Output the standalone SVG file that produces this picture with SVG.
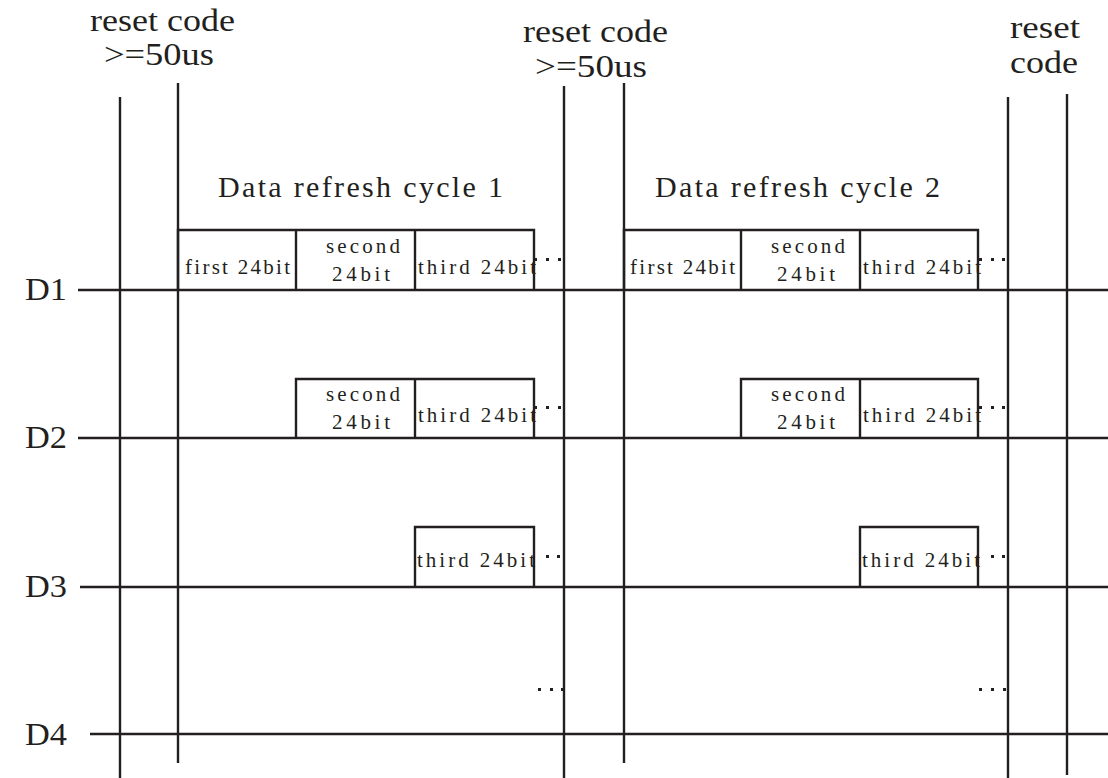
<svg xmlns="http://www.w3.org/2000/svg" width="1108" height="778" viewBox="0 0 1108 778">
<style>
.ln{stroke:#231f20;stroke-width:2.4;fill:none}
.t{font-family:"Liberation Serif",serif;fill:#231f20}
.big{font-size:31px}
.mid{font-size:30px}
.sm{font-size:21px}
.dot{fill:#231f20}
</style>
<rect width="1108" height="778" fill="#fff"/>
<g id="labels">
<text class="t big" x="90" y="31" textLength="145" lengthAdjust="spacingAndGlyphs">reset code</text>
<text class="t big" x="104" y="65" textLength="110" lengthAdjust="spacingAndGlyphs">&gt;=50us</text>
<text class="t big" x="523" y="42" textLength="145" lengthAdjust="spacingAndGlyphs">reset code</text>
<text class="t big" x="535" y="77" textLength="112" lengthAdjust="spacingAndGlyphs">&gt;=50us</text>
<text class="t big" x="1010" y="38" textLength="70" lengthAdjust="spacingAndGlyphs">reset</text>
<text class="t big" x="1010" y="73" textLength="68" lengthAdjust="spacingAndGlyphs">code</text>
<text class="t mid" x="218" y="197" textLength="285" lengthAdjust="spacing">Data refresh cycle 1</text>
<text class="t mid" x="655" y="197" textLength="285" lengthAdjust="spacing">Data refresh cycle 2</text>
<text class="t big" x="25" y="300" textLength="42" lengthAdjust="spacingAndGlyphs">D1</text>
<text class="t big" x="25" y="448" textLength="42" lengthAdjust="spacingAndGlyphs">D2</text>
<text class="t big" x="25" y="597" textLength="42" lengthAdjust="spacingAndGlyphs">D3</text>
<text class="t big" x="25" y="745" textLength="42" lengthAdjust="spacingAndGlyphs">D4</text>
</g>
<g id="connectors">
<line class="ln" x1="120" y1="97" x2="120" y2="778"/>
<line class="ln" x1="178" y1="83" x2="178" y2="763"/>
<line class="ln" x1="564" y1="86" x2="564" y2="778"/>
<line class="ln" x1="624" y1="83" x2="624" y2="763"/>
<line class="ln" x1="1008" y1="97" x2="1008" y2="778"/>
<line class="ln" x1="1067" y1="94" x2="1067" y2="775"/>
<line class="ln" x1="78" y1="290" x2="1108" y2="290"/>
<line class="ln" x1="78" y1="438" x2="1108" y2="438"/>
<line class="ln" x1="80" y1="587" x2="1108" y2="587"/>
<line class="ln" x1="90" y1="734" x2="1108" y2="734"/>
</g>
<g id="d1-cycle1">
<polyline class="ln" points="178,290 178,230 534,230 534,290"/>
<line class="ln" x1="296" y1="230" x2="296" y2="290"/>
<line class="ln" x1="415" y1="230" x2="415" y2="290"/>
<text class="t sm" x="185" y="274" textLength="105" lengthAdjust="spacing">first 24bit</text>
<text class="t sm" x="326" y="253" textLength="74" lengthAdjust="spacing">second</text>
<text class="t sm" x="332" y="281" textLength="58" lengthAdjust="spacing">24bit</text>
<text class="t sm" x="418" y="274" textLength="118" lengthAdjust="spacing">third 24bit</text>
</g>
<g id="d1-cycle2">
<polyline class="ln" points="624,290 624,230 978,230 978,290"/>
<line class="ln" x1="741" y1="230" x2="741" y2="290"/>
<line class="ln" x1="860" y1="230" x2="860" y2="290"/>
<text class="t sm" x="630" y="274" textLength="105" lengthAdjust="spacing">first 24bit</text>
<text class="t sm" x="771" y="253" textLength="74" lengthAdjust="spacing">second</text>
<text class="t sm" x="777" y="281" textLength="58" lengthAdjust="spacing">24bit</text>
<text class="t sm" x="863" y="274" textLength="118" lengthAdjust="spacing">third 24bit</text>
</g>
<g id="d2-cycle1">
<polyline class="ln" points="296,438 296,379 534,379 534,438"/>
<line class="ln" x1="415" y1="379" x2="415" y2="438"/>
<text class="t sm" x="326" y="401" textLength="74" lengthAdjust="spacing">second</text>
<text class="t sm" x="332" y="429" textLength="58" lengthAdjust="spacing">24bit</text>
<text class="t sm" x="418" y="422" textLength="118" lengthAdjust="spacing">third 24bit</text>
</g>
<g id="d2-cycle2">
<polyline class="ln" points="741,438 741,379 978,379 978,438"/>
<line class="ln" x1="860" y1="379" x2="860" y2="438"/>
<text class="t sm" x="771" y="401" textLength="74" lengthAdjust="spacing">second</text>
<text class="t sm" x="777" y="429" textLength="58" lengthAdjust="spacing">24bit</text>
<text class="t sm" x="863" y="422" textLength="118" lengthAdjust="spacing">third 24bit</text>
</g>
<g id="d3-cycle1">
<polyline class="ln" points="415,587 415,527 534,527 534,587"/>
<text class="t sm" x="417" y="567" textLength="118" lengthAdjust="spacing">third 24bit</text>
</g>
<g id="d3-cycle2">
<polyline class="ln" points="860,587 860,527 978,527 978,587"/>
<text class="t sm" x="862" y="567" textLength="118" lengthAdjust="spacing">third 24bit</text>
</g>
<g id="dots">
<rect class="dot" x="534" y="258" width="3" height="3"/><rect class="dot" x="546" y="258" width="3" height="3"/><rect class="dot" x="558" y="258" width="3" height="3"/>
<rect class="dot" x="979" y="258" width="3" height="3"/><rect class="dot" x="991" y="258" width="3" height="3"/><rect class="dot" x="1002" y="258" width="3" height="3"/>
<rect class="dot" x="534" y="406" width="3" height="3"/><rect class="dot" x="546" y="406" width="3" height="3"/><rect class="dot" x="558" y="406" width="3" height="3"/>
<rect class="dot" x="979" y="406" width="3" height="3"/><rect class="dot" x="991" y="406" width="3" height="3"/><rect class="dot" x="1002" y="406" width="3" height="3"/>
<rect class="dot" x="546" y="555" width="3" height="3"/><rect class="dot" x="557" y="555" width="3" height="3"/>
<rect class="dot" x="991" y="555" width="3" height="3"/><rect class="dot" x="1002" y="555" width="3" height="3"/>
<rect class="dot" x="538" y="688" width="3" height="3"/><rect class="dot" x="550" y="688" width="3" height="3"/><rect class="dot" x="561" y="688" width="3" height="3"/>
<rect class="dot" x="979" y="688" width="3" height="3"/><rect class="dot" x="991" y="688" width="3" height="3"/><rect class="dot" x="1003" y="688" width="3" height="3"/>
</g>
</svg>
